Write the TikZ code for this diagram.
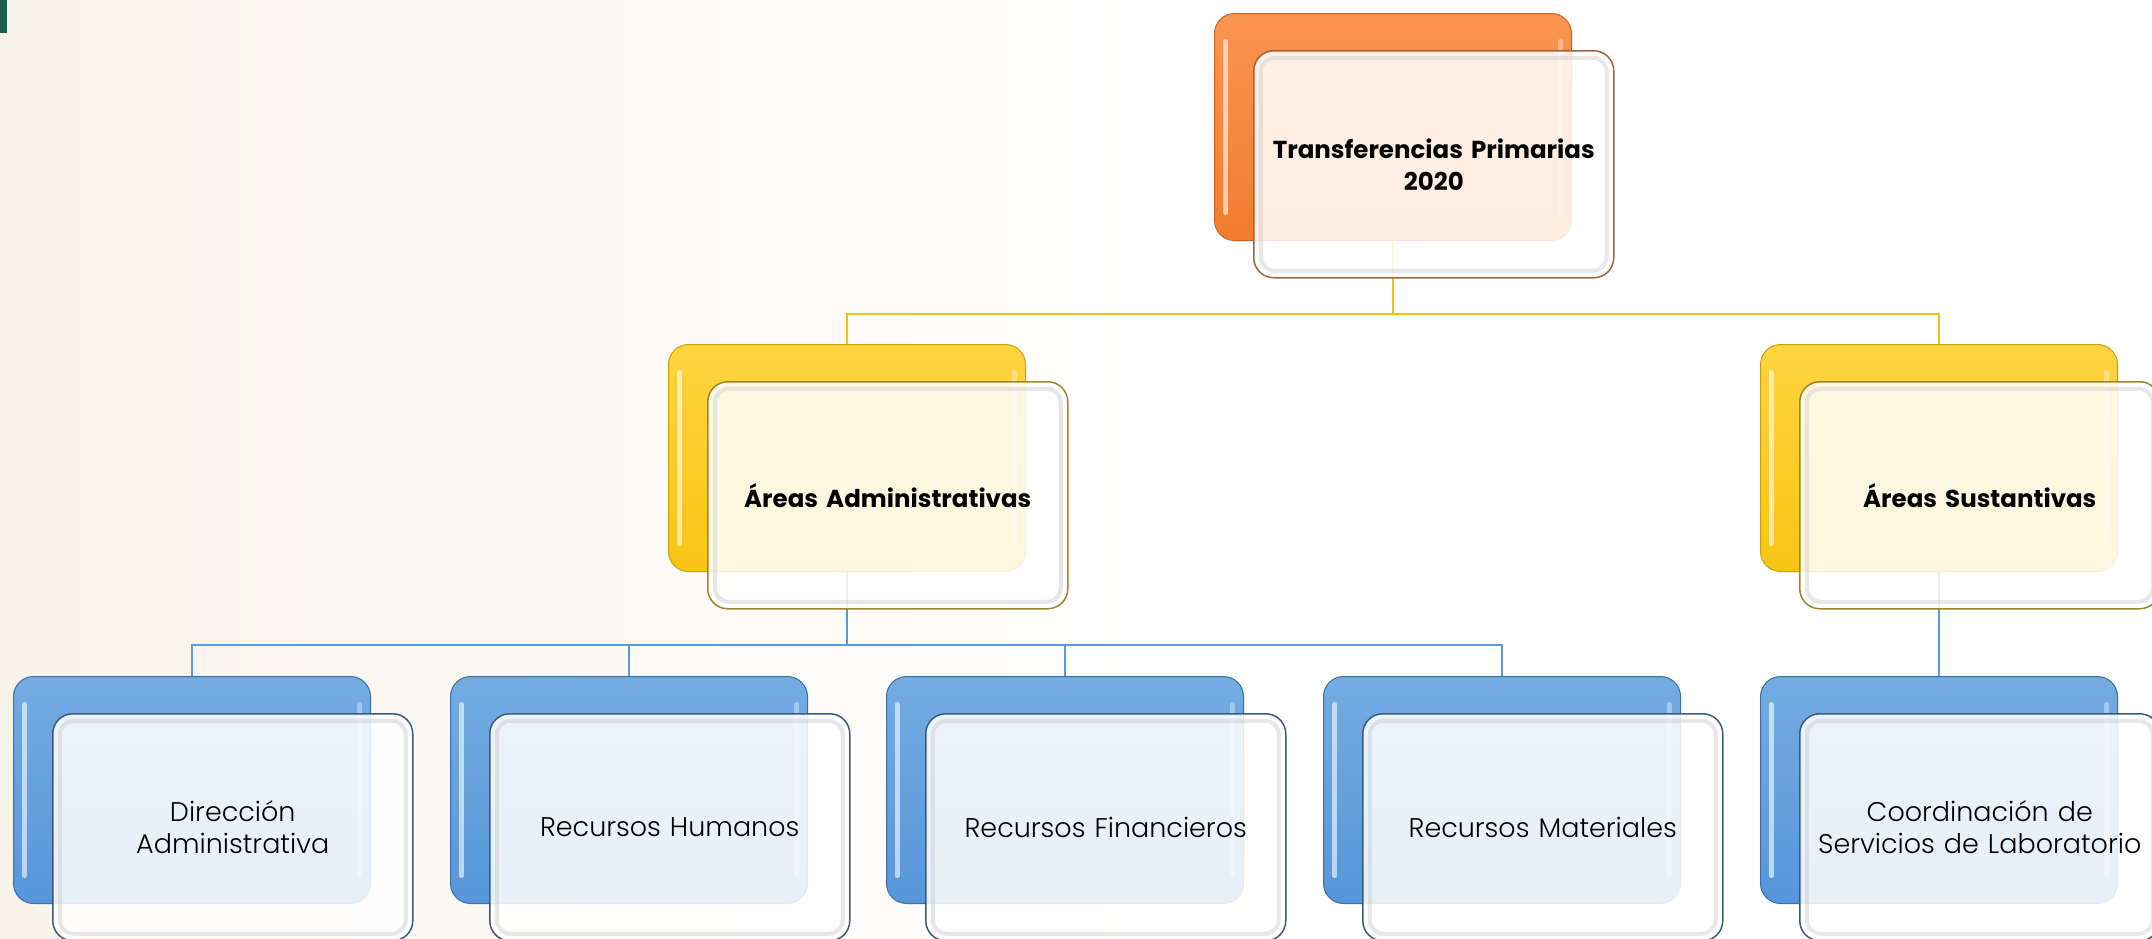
\documentclass[tikz,border=0pt]{standalone}
\usepackage{fontspec}
\setmainfont{Poppins}
\newfontfamily\ligera{Poppins Light}
\usetikzlibrary{positioning}

\definecolor{crema}{HTML}{F8F3EA}
\definecolor{verdegob}{HTML}{1E5B4F}
\definecolor{naranjaA}{HTML}{FA9550}
\definecolor{naranjaB}{HTML}{F27C30}
\definecolor{naranjaL}{HTML}{C8631F}
\definecolor{naranjaF}{HTML}{A0643C}
\definecolor{amarilloA}{HTML}{FFD440}
\definecolor{amarilloB}{HTML}{F8C415}
\definecolor{amarilloL}{HTML}{C9A20A}
\definecolor{amarilloF}{HTML}{9C862A}
\definecolor{azulA}{HTML}{74ACE2}
\definecolor{azulB}{HTML}{5796DA}
\definecolor{azulL}{HTML}{3B6EA5}
\definecolor{azulF}{HTML}{3D5A7E}
\definecolor{lineaam}{HTML}{F9C10E}
\definecolor{lineaaz}{HTML}{5B9BD5}

\newcommand{\titulo}{\bfseries\fontsize{24.5}{32}\selectfont}
\newcommand{\texto}{\ligera\fontsize{27}{32}\selectfont}

\tikzset{
  backbox/.style n args={3}{draw=#3, line width=1pt, rounded corners=20pt,
    top color=#1, bottom color=#2, minimum width=357pt, minimum height=227pt,
    inner sep=0pt, anchor=north west,
    path picture={
      \draw[white, opacity=0.6, line width=5pt, line cap=round]
        ([shift={(11pt,-28pt)}]path picture bounding box.north west) --
        ([shift={(11pt,28pt)}]path picture bounding box.south west);
      \draw[white, opacity=0.35, line width=5pt, line cap=round]
        ([shift={(-11pt,-28pt)}]path picture bounding box.north east) --
        ([shift={(-11pt,28pt)}]path picture bounding box.south east);}},
  frontbox/.style={draw=#1, line width=1.5pt, rounded corners=20pt,
    fill=white, fill opacity=0.86, text opacity=1,
    minimum width=360pt, minimum height=227pt, text width=340pt,
    align=center, inner sep=0pt,
    path picture={
      \draw[black!20, line width=4pt, rounded corners=14pt, opacity=0.45]
        ([shift={(7pt,-7pt)}]path picture bounding box.north west) rectangle
        ([shift={(-7pt,7pt)}]path picture bounding box.south east);}},
  ylink/.style={draw=lineaam, line width=2pt},
  blink/.style={draw=lineaaz, line width=2pt}
}

\begin{document}
\begin{tikzpicture}[x=1pt,y=-1pt]
\useasboundingbox (0,0) rectangle (2152,938);
\fill[left color=crema, right color=white] (0,0) rectangle (1150,938);
\fill[verdegob] (0,0) rectangle (7,33);

% cajas de fondo
\node[backbox={naranjaA}{naranjaB}{naranjaL}] (topback) at (1214,13) {};
\node[backbox={amarilloA}{amarilloB}{amarilloL}] (admback) at (668,344) {};
\node[backbox={amarilloA}{amarilloB}{amarilloL}] (susback) at (1760,344) {};
\foreach \i/\x in {1/13,2/450,3/886,4/1323,5/1760}
  \node[backbox={azulA}{azulB}{azulL}] (area\i back) at (\x,676) {};

% conectores
\draw[ylink] (topback.south) -- ++(0,73) -| (admback.north);
\draw[ylink] (topback.south) -- ++(0,73) -| (susback.north);
\foreach \i in {1,...,4}{ \draw[blink] (admback.south) -- ++(0,73) -| (area\i back.north); }
\draw[blink] (susback.south) -- (area5back.north);

% cajas de frente
\node[frontbox=naranjaF, font=\titulo, below right=37pt and 39pt of topback.north west] (topfront) {Transferencias Primarias\\2020};
\node[frontbox=amarilloF, font=\titulo, below right=37pt and 39pt of admback.north west] (admfront) {Áreas Administrativas};
\node[frontbox=amarilloF, font=\titulo, below right=37pt and 39pt of susback.north west] (susfront) {Áreas Sustantivas};
\foreach \i/\txt in {1/{Dirección\\Administrativa},2/{Recursos Humanos},3/{Recursos Financieros},4/{Recursos Materiales},5/{Coordinación de\\Servicios de Laboratorio}}
{ \node[frontbox=azulF, font=\texto, below right=37pt and 39pt of area\i back.north west] (area\i front) {\txt};
}
\end{tikzpicture}
\end{document}
